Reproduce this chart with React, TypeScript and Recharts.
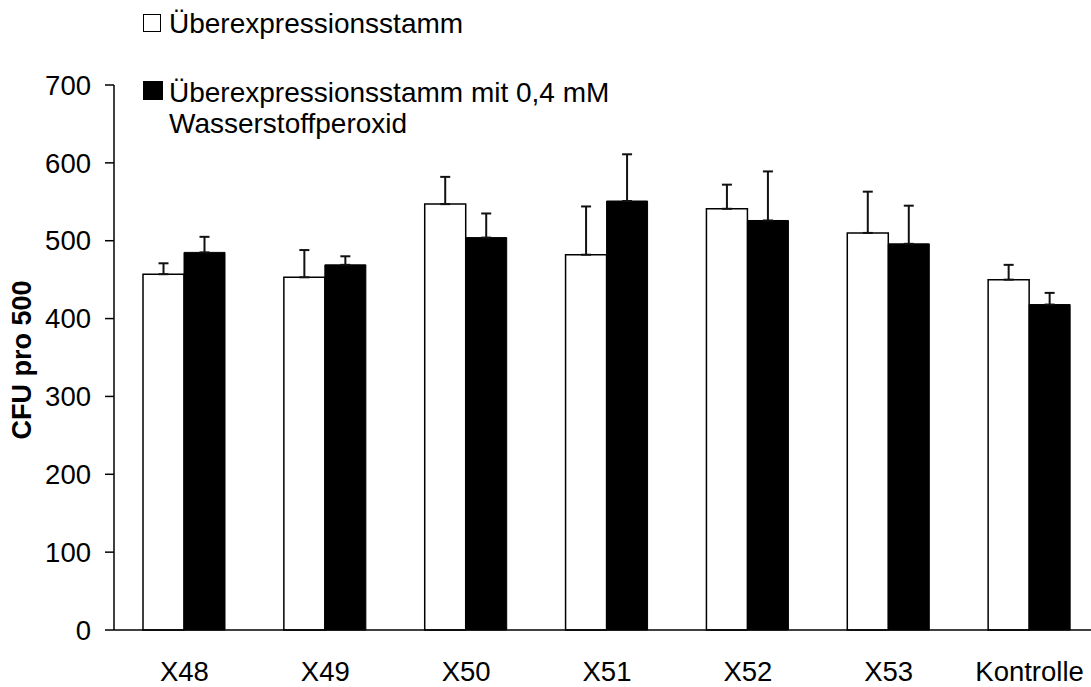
import { BarChart, Bar, XAxis, YAxis, ErrorBar } from 'recharts';

const kategorien = ['X48', 'X49', 'X50', 'X51', 'X52', 'X53', 'Kontrolle'];
const stamm = [457, 453, 547, 482, 541, 510, 450];
const stammFehler = [14, 35, 35, 62, 31, 53, 19];
const peroxid = [485, 469, 504, 551, 526, 496, 418];
const peroxidFehler = [20, 11, 31, 60, 63, 49, 15];
const yTicks = [0, 100, 200, 300, 400, 500, 600, 700];

const daten = kategorien.map((k, i) => ({
  name: k,
  stamm: stamm[i],
  stammErr: [0, stammFehler[i]],
  peroxid: peroxid[i],
  peroxidErr: [0, peroxidFehler[i]],
}));

const schrift = '"Liberation Sans", Arial, sans-serif';

function AchsenTitel() {
  return (
    <text
      x={31}
      y={360}
      transform="rotate(-90 31 360)"
      textAnchor="middle"
      fontFamily={schrift}
      fontSize={27}
      fontWeight="bold"
      fill="#000"
    >
      CFU pro 500
    </text>
  );
}

export default function App() {
  if (typeof document !== 'undefined') document.body.style.margin = '0';

  const legendeText = {
    position: 'absolute' as const,
    left: 169,
    fontSize: 28,
    lineHeight: '31px',
    fontFamily: schrift,
    color: '#000',
    whiteSpace: 'nowrap' as const,
  };

  return (
    <div style={{ position: 'relative', width: 1091, height: 687, overflow: 'hidden', background: '#fff' }}>
      <BarChart
        width={1100}
        height={687}
        data={daten}
        margin={{ top: 85, right: 0, left: 0, bottom: 0 }}
        barGap={0}
        barSize={41}
      >
        <XAxis
          dataKey="name"
          height={57}
          axisLine={{ stroke: '#000', strokeWidth: 1.5 }}
          tickLine={false}
          tickSize={8}
          tickMargin={23}
          interval={0}
          tick={{ fill: '#000', fontSize: 27.5, fontFamily: schrift }}
        />
        <YAxis
          width={114}
          domain={[0, 700]}
          ticks={yTicks}
          interval={0}
          axisLine={{ stroke: '#000', strokeWidth: 1.5 }}
          tickLine={{ stroke: '#000', strokeWidth: 1.5 }}
          tickSize={9}
          tickMargin={14}
          tick={{ fill: '#000', fontSize: 27.5, fontFamily: schrift }}
          label={<AchsenTitel />}
        />
        <Bar dataKey="stamm" fill="#fff" stroke="#000" strokeWidth={1.5} isAnimationActive={false}>
          <ErrorBar dataKey="stammErr" direction="y" width={5} stroke="#111" strokeWidth={2} isAnimationActive={false} />
        </Bar>
        <Bar dataKey="peroxid" fill="#000" stroke="#000" strokeWidth={1} isAnimationActive={false}>
          <ErrorBar dataKey="peroxidErr" direction="y" width={5} stroke="#111" strokeWidth={2} isAnimationActive={false} />
        </Bar>
      </BarChart>

      <div style={{ position: 'absolute', left: 143, top: 14, width: 16, height: 16, border: '1.5px solid #000', background: '#fff' }} />
      <div style={{ ...legendeText, top: 8 }}>Überexpressionsstamm</div>

      <div style={{ position: 'absolute', left: 143, top: 81, width: 20, height: 19, background: '#000' }} />
      <div style={{ ...legendeText, top: 77 }}>
        Überexpressionsstamm mit 0,4 mM
        <br />
        Wasserstoffperoxid
      </div>
    </div>
  );
}
